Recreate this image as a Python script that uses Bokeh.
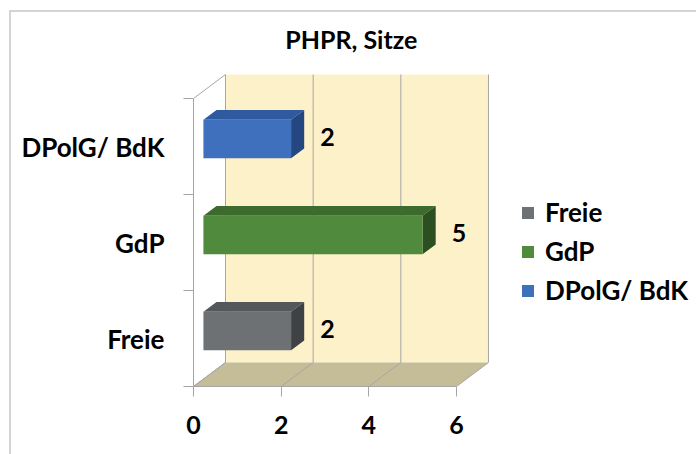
from bokeh.plotting import figure
from bokeh.models import Range1d, FixedTicker, Legend, LegendItem, ColumnDataSource, InlineStyleSheet, Label
from bokeh.core.properties import value
from bokeh.embed import file_html
from bokeh.resources import INLINE

# ---- data ----
chart_title = "PHPR, Sitze"
categories = ["Freie", "GdP", "DPolG/ BdK"]
seats = [2, 5, 2]
x_ticks = [0, 2, 4, 6]

# ---- styles ----
front_colors = ["#6e7174", "#4f8a3d", "#3f70bd"]
top_colors = ["#55585b", "#3d6b2e", "#2f5a9f"]
side_colors = ["#3f4244", "#2b4f20", "#244781"]
wall_color = "#fdf1c9"
floor_color = "#c4bd97"
grid_color = "#a6a6a6"
FONT = "Lato"

DX, DY = 0.73, 0.25      # depth offset of the back wall (data units)
F0, F1 = 0.31, 0.72      # bar depth fractions
HALF = 0.2               # half bar thickness
XMAX = x_ticks[-1]
NCAT = len(categories)

p = figure(width=696, height=446,
           x_range=Range1d(0, 11.476),
           y_range=Range1d(0, 3.896),
           output_backend="svg", toolbar_location=None,
           min_border_left=193, min_border_right=0,
           min_border_top=12, min_border_bottom=60)
p.outline_line_color = None
p.xgrid.visible = False
p.ygrid.visible = False
p.background_fill_color = "white"
p.border_fill_color = "white"
p.stylesheets = [InlineStyleSheet(css=":host::after{content:'';position:absolute;left:9px;top:10px;"
                                      "width:800px;height:600px;border-left:2px solid #d4d4d4;"
                                      "border-top:2px solid #d4d4d4;pointer-events:none;z-index:10;}")]

# title
p.add_layout(Label(x=3.6, y=3.625, text=chart_title, text_align="center", text_baseline="middle",
                   text_font=FONT, text_font_size="25px", text_font_style="bold", text_color="black"))

# back wall and floor
p.quad(left=DX, right=XMAX + DX, bottom=DY, top=NCAT + DY,
       fill_color=wall_color, line_color=None)
p.patch(x=[0, XMAX, XMAX + DX, DX], y=[0, 0, DY, DY],
        fill_color=floor_color, line_color=None)
p.segment(x0=[t + DX for t in x_ticks], y0=DY, x1=[t + DX for t in x_ticks], y1=NCAT + DY,
          line_color=grid_color, line_width=1)
p.segment(x0=x_ticks, y0=0, x1=[t + DX for t in x_ticks], y1=DY,
          line_color=grid_color, line_width=1)
p.segment(x0=[0, 0], y0=[0, NCAT], x1=[DX, DX], y1=[DY, NCAT + DY],
          line_color=grid_color, line_width=1)

# 3D bars
yc = [i + 0.5 for i in range(NCAT)]
front = ColumnDataSource(dict(
    left=[F0 * DX] * NCAT,
    right=[v + F0 * DX for v in seats],
    bottom=[c - HALF + F0 * DY for c in yc],
    top=[c + HALF + F0 * DY for c in yc],
    color=front_colors,
))
top_xs = [[F0 * DX, v + F0 * DX, v + F1 * DX, F1 * DX] for v in seats]
top_ys = [[c + HALF + F0 * DY, c + HALF + F0 * DY, c + HALF + F1 * DY, c + HALF + F1 * DY] for c in yc]
side_xs = [[v + F0 * DX, v + F0 * DX, v + F1 * DX, v + F1 * DX] for v in seats]
side_ys = [[c - HALF + F0 * DY, c + HALF + F0 * DY, c + HALF + F1 * DY, c - HALF + F1 * DY] for c in yc]

p.patches(xs=top_xs, ys=top_ys, fill_color=top_colors, line_color=None)
p.patches(xs=side_xs, ys=side_ys, fill_color=side_colors, line_color=None)
front_r = p.quad(left="left", right="right", bottom="bottom", top="top",
                 fill_color="color", line_color=None, source=front)

# data labels
p.text(x=[v + F1 * DX for v in seats], y=[c + 0.1 for c in yc], text=[str(v) for v in seats],
       x_offset=16, text_align="left", text_baseline="middle",
       text_font=value(FONT), text_font_size="25px", text_font_style="bold", text_color="black")

# axes
xa = p.xaxis[0]
xa.ticker = FixedTicker(ticks=x_ticks)
xa.bounds = (0, XMAX)
xa.axis_line_color = grid_color
xa.major_tick_line_color = grid_color
xa.major_tick_out = 10
xa.major_tick_in = 0
xa.minor_tick_line_color = None
xa.major_label_standoff = 19
xa.major_label_text_font = FONT
xa.major_label_text_font_size = "25px"
xa.major_label_text_font_style = "bold"
xa.major_label_text_color = "black"

ya = p.yaxis[0]
ya.ticker = FixedTicker(ticks=yc, minor_ticks=list(range(NCAT + 1)))
ya.bounds = (0, NCAT)
ya.major_label_overrides = {c: cat for c, cat in zip(yc, categories)}
ya.axis_line_color = grid_color
ya.major_tick_line_color = None
ya.major_tick_out = 0
ya.major_tick_in = 0
ya.minor_tick_line_color = grid_color
ya.minor_tick_out = 10
ya.minor_tick_in = 0
ya.major_label_standoff = 19
ya.major_label_text_font = FONT
ya.major_label_text_font_size = "26px"
ya.major_label_text_font_style = "bold"
ya.major_label_text_color = "black"

legend = Legend(items=[LegendItem(label=cat, renderers=[front_r], index=i)
                       for i, cat in enumerate(categories)],
                location=(327, 80), orientation="vertical",
                padding=0, margin=0, spacing=7,
                glyph_width=15, glyph_height=15, label_height=31, label_standoff=10,
                label_text_font=FONT, label_text_font_size="26px",
                label_text_font_style="bold", label_text_color="black",
                background_fill_alpha=0, border_line_color=None)
p.add_layout(legend, "center")

open("out.html", "w").write(file_html(p, INLINE))
